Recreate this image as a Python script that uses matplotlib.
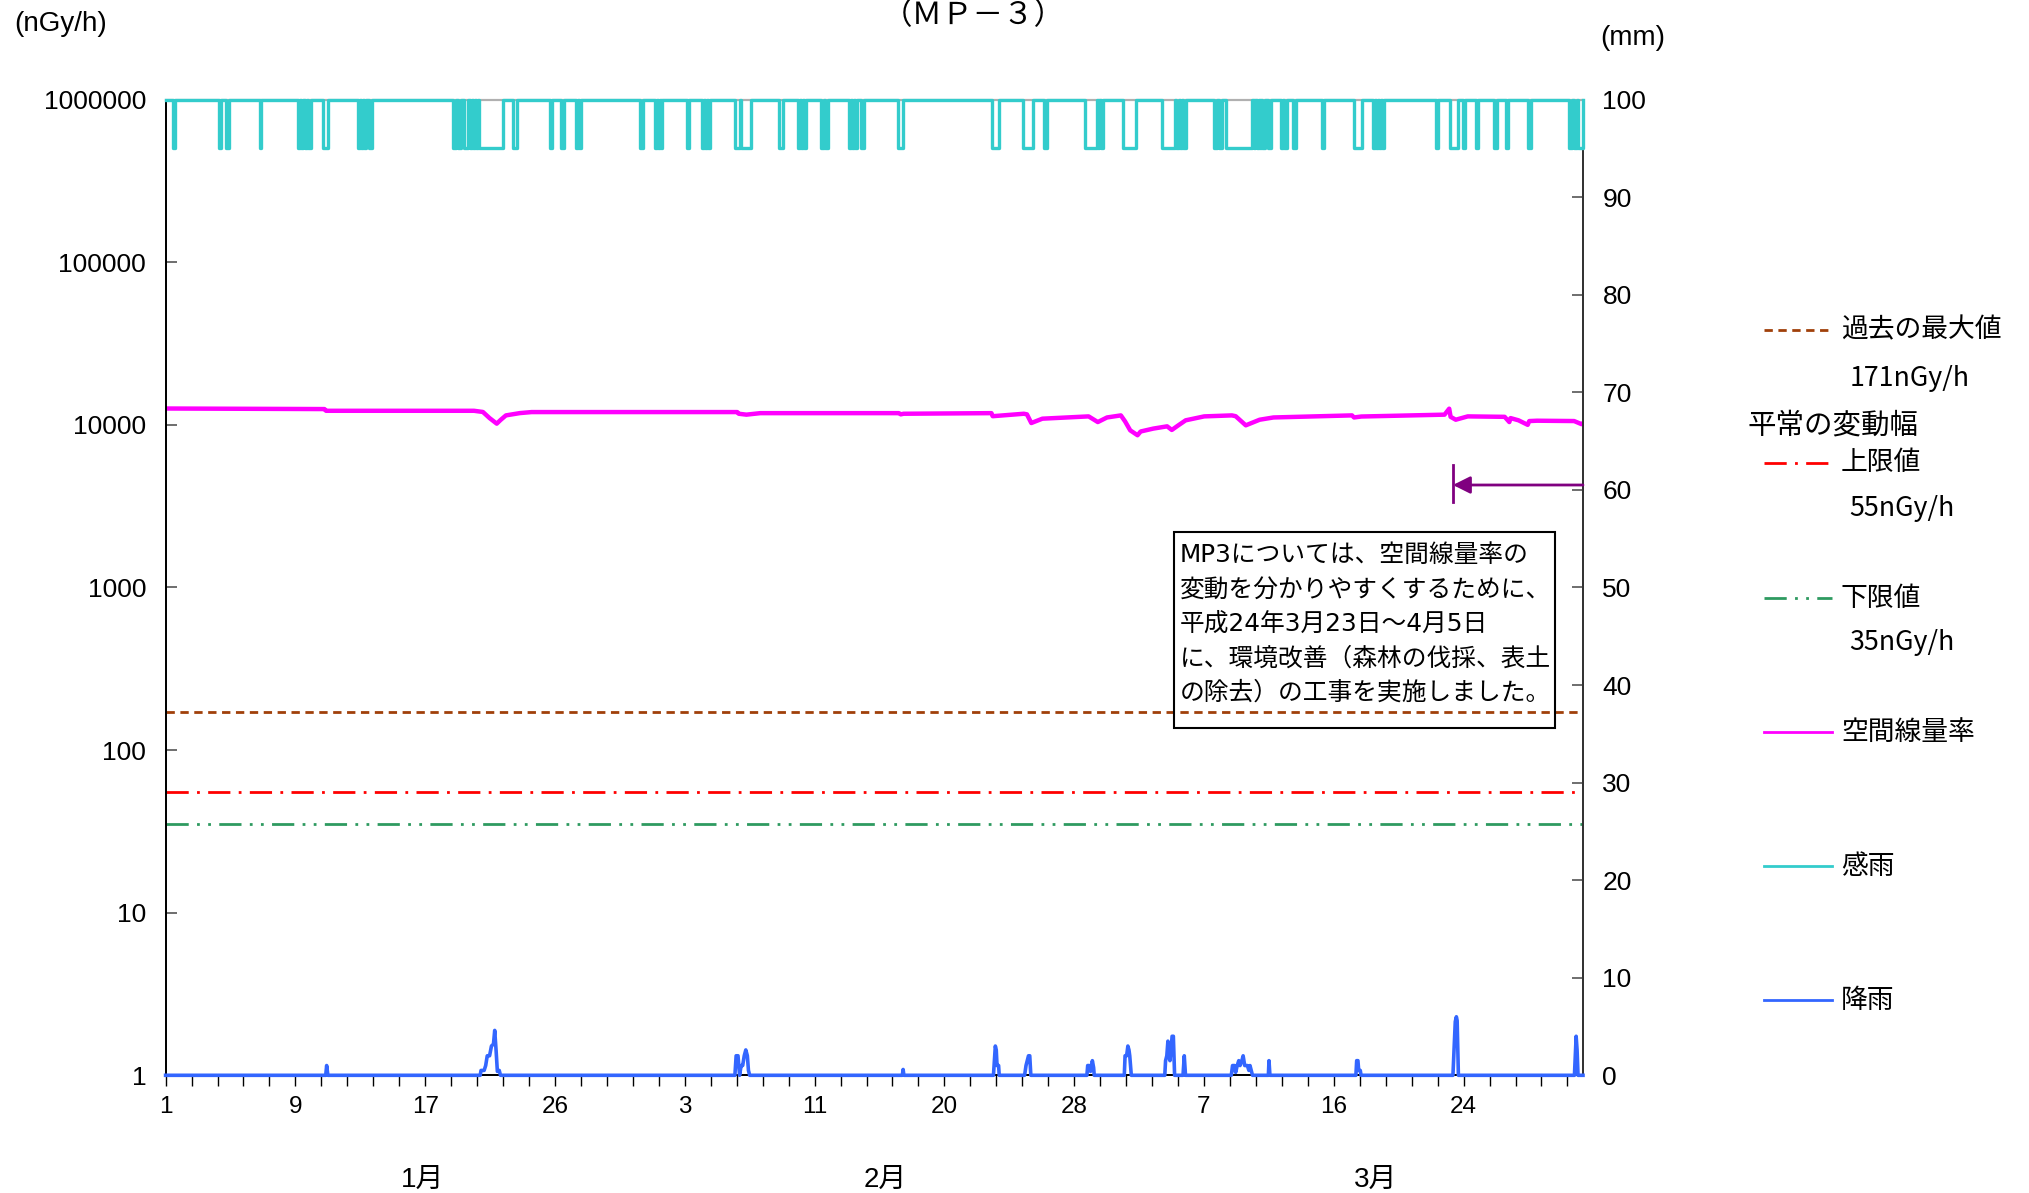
import numpy as np
import matplotlib
matplotlib.use("Agg")
import matplotlib.pyplot as plt
from matplotlib.lines import Line2D
from matplotlib.patches import Rectangle
from matplotlib.ticker import FixedLocator, NullLocator

plt.rcParams['font.family'] = ['Liberation Sans', 'Noto Sans CJK JP']

# ---------------- data (x in days elapsed since Jan 1, 2012) ----------------
dose_day = [0, 10.2, 10.3, 19.8, 20.37, 20.8, 21.26, 21.5, 21.85, 22.75, 23.5, 36.7, 36.8, 37.29,
            38.18, 47.08, 47.2, 47.38, 53.02, 53.1, 55.1, 55.3, 55.58, 56.29, 59.26, 59.85, 60.44,
            61.33, 61.6, 61.93, 62.4, 62.6, 63.41, 64.3, 64.6, 65.0, 65.49, 66.68, 68.46, 68.7,
            69.35, 70.24, 71.13, 76.17, 76.3, 76.77, 82.11, 82.41, 82.5, 82.83, 83.6, 85.97, 86.27,
            86.35, 86.86, 87.45, 87.55, 88.05, 90.43, 90.9, 91]
dose_val = [12600, 12500, 12200, 12200, 12000, 11000, 10170, 10700, 11430, 11810, 11980, 11980,
            11700, 11550, 11800, 11800, 11600, 11700, 11800, 11300, 11700, 11600, 10260, 10910,
            11270, 10400, 11100, 11430, 10500, 9250, 8630, 9100, 9480, 9790, 9300, 9900, 10660,
            11270, 11430, 11300, 9930, 10750, 11100, 11430, 11100, 11250, 11550, 12570, 11200,
            10750, 11270, 11200, 10400, 11000, 10660, 10000, 10550, 10600, 10550, 10100, 10200]

rain_day = [0, 10.28, 10.34, 10.42,
            20.2, 20.25, 20.45, 20.55, 20.65, 20.8, 20.92, 21.05, 21.13, 21.22, 21.3, 21.42, 21.5,
            36.55, 36.63, 36.75, 36.85, 36.95, 37.05, 37.15, 37.25, 37.35, 37.42, 37.5,
            47.3, 47.35, 47.4,
            53.15, 53.27, 53.33, 53.38, 53.48, 53.52,
            55.15, 55.24, 55.32, 55.4, 55.48, 55.55,
            59.15, 59.2, 59.3, 59.38, 59.5, 59.58, 59.62,
            61.55, 61.6, 61.7, 61.78, 61.85, 61.9, 62.0,
            64.15, 64.2, 64.28, 64.35, 64.42, 64.48, 64.55, 64.62, 64.7, 64.78,
            65.32, 65.4, 65.48,
            68.42, 68.5, 68.62, 68.7, 68.8, 68.9, 68.98, 69.1, 69.18, 69.28, 69.45, 69.55, 69.62, 69.7, 69.78,
            70.8, 70.84, 70.9,
            76.42, 76.47, 76.55, 76.6, 76.7, 76.75,
            82.65, 82.72, 82.8, 82.87, 82.92, 83.0,
            90.45, 90.56, 90.62, 90.68, 91]
rain_mm = [0, 0, 1.0, 0,
           0, 0.5, 0.5, 1.0, 2.0, 2.0, 3.0, 3.2, 4.6, 2.5, 0.4, 0.5, 0,
           0, 2.0, 2.0, 0, 1.0, 1.0, 2.0, 2.6, 2.0, 0.5, 0,
           0, 0.6, 0,
           0, 3.0, 2.6, 1.0, 1.0, 0,
           0, 1.0, 1.5, 2.0, 2.0, 0,
           0, 1.0, 1.0, 0.4, 1.5, 0.8, 0,
           0, 2.0, 2.0, 3.0, 2.6, 2.0, 0,
           0, 1.5, 2.0, 3.5, 2.0, 1.5, 2.6, 4.0, 4.0, 0,
           0, 2.0, 0,
           0, 1.0, 1.0, 0.3, 1.0, 1.5, 1.0, 1.5, 2.0, 1.0, 1.0, 0.5, 1.0, 0.5, 0,
           0, 1.5, 0,
           0, 1.5, 1.5, 0.5, 0.5, 0,
           0, 2.6, 5.5, 6.0, 5.6, 0,
           0, 4.0, 2.6, 0, 0]

sense_start = [0.45, 3.43, 3.88, 6.03, 8.52, 8.72, 8.92, 9.12, 10.1, 12.37, 12.56, 12.74, 13.08,
               18.47, 18.8, 19.16, 19.54, 19.74, 19.94, 20.12, 22.3, 24.68, 25.39, 26.35, 26.55,
               30.46, 31.42, 31.62, 31.78, 33.45, 34.42, 34.62, 34.82, 36.56, 36.95, 39.4, 40.62,
               40.82, 41.0, 42.08, 42.33, 43.88, 44.08, 44.27, 44.63, 47.0, 53.03, 55.03, 56.4,
               59.03, 59.85, 60.05, 61.45, 63.99, 64.9, 65.12, 65.32, 67.33, 67.6, 68.1, 69.85,
               70.05, 70.24, 70.4, 70.76, 71.6, 71.82, 72.4, 74.27, 76.3, 77.5, 77.7, 77.9, 78.1,
               81.55, 82.47, 83.3, 84.1, 85.3, 86.05, 87.45, 90.12, 90.44, 90.7]
sense_end = [0.62, 3.58, 4.05, 6.1, 8.65, 8.85, 9.05, 9.32, 10.45, 12.5, 12.68, 12.87, 13.23,
             18.62, 18.98, 19.43, 19.67, 19.87, 20.05, 21.68, 22.58, 24.83, 25.56, 26.45, 26.67,
             30.65, 31.55, 31.72, 31.85, 33.6, 34.55, 34.75, 34.95, 36.88, 37.6, 39.62, 40.75,
             40.95, 41.1, 42.25, 42.5, 44.0, 44.2, 44.37, 44.84, 47.36, 53.52, 55.7, 56.6,
             59.78, 59.95, 60.2, 62.3, 64.8, 65.05, 65.25, 65.5, 67.48, 67.8, 69.78, 69.97,
             70.17, 70.34, 70.6, 70.95, 71.72, 71.97, 72.6, 74.38, 76.8, 77.62, 77.82, 78.02, 78.24,
             81.7, 83.0, 83.45, 84.27, 85.5, 86.2, 87.65, 90.32, 90.6, 91.0]
sense_dry = 100
sense_wet = 95

past_max = 171
upper_limit = 55
lower_limit = 35

xtick_labels = ['1', '9', '17', '26', '3', '11', '20', '28', '7', '16', '24']
month_labels = ['1月', '2月', '3月']
month_centers = [16.5, 46.2, 77.7]
ylabels_left = ['1', '10', '100', '1000', '10000', '100000', '1000000']

note_lines = ['MP3については、空間線量率の',
              '変動を分かりやすくするために、',
              '平成24年3月23日～4月5日',
              'に、環境改善（森林の伐採、表土',
              'の除去）の工事を実施しました。']
work_start_day = 82.65
arrow_level = 60.5

# ---------------- figure ----------------
W, H = 2029, 1193
fig = plt.figure(figsize=(W / 100, H / 100), dpi=100)
ax = fig.add_axes([165.6 / W, 1 - 1075.3 / H, (1583 - 165.6) / W, (1075.3 - 99.6) / H])
ax.set_yscale('log')
ax.set_ylim(1, 1e6)
ax.set_xlim(0, 91)
ax2 = ax.twinx()
ax2.set_ylim(0, 100)
ax2.set_xlim(0, 91)

c_past = '#a0400a'
c_up = '#ff0000'
c_low = '#2e9a60'
c_dose = '#ff00ff'
c_sense = '#33cccc'
c_rain = '#3366ff'
c_arrow = '#800080'

ls_past = (0, (3, 2))
ls_up = (0, (8, 3, 1, 3))
ls_low = (0, (8, 3, 1, 3, 1, 3))

ax.axhline(past_max, color=c_past, ls=ls_past, lw=2)
ax.axhline(upper_limit, color=c_up, ls=ls_up, lw=2)
ax.axhline(lower_limit, color=c_low, ls=ls_low, lw=2)
ax.plot(dose_day, dose_val, color=c_dose, lw=3.2)

# sensing rain step series
sx, sy = [0], [sense_dry]
for s, e in zip(sense_start, sense_end):
    sx += [s, s, e, e]
    sy += [sense_dry, sense_wet, sense_wet, sense_dry]
sx.append(91)
sy.append(sense_dry)
ax2.plot(sx, sy, color=c_sense, lw=2.4, clip_on=False, zorder=3)
ax2.plot(rain_day, rain_mm, color=c_rain, lw=2.6, clip_on=False, zorder=3)

# spines
for a in (ax, ax2):
    a.spines['top'].set_color('#b0b0b0')
    a.spines['top'].set_linewidth(1.5)
    a.spines['left'].set_color('black')
    a.spines['bottom'].set_color('black')
    a.spines['right'].set_color('#333333')
    for s in ('left', 'bottom', 'right'):
        a.spines[s].set_linewidth(1.3)

# ticks
ax.yaxis.set_major_locator(FixedLocator([10 ** i for i in range(7)]))
ax.yaxis.set_minor_locator(NullLocator())
ax.set_yticklabels(ylabels_left)
ax.tick_params(axis='y', which='both', direction='in', length=8, width=1.2,
               labelsize=19, pad=14, colors='#555555', labelcolor='black')
ax2.set_yticks(np.arange(0, 101, 10))
ax2.tick_params(axis='y', direction='in', length=8, width=1.2, labelsize=19, pad=14,
                colors='#555555', labelcolor='black')

label_step = 25 / 3
ax.set_xticks([k * label_step for k in range(len(xtick_labels))])
ax.set_xticklabels(xtick_labels)
ax.set_xticks(np.arange(0, 91, label_step / 5), minor=True)
ax.tick_params(axis='x', which='both', direction='out', length=8, width=1.0, labelsize=17.5, pad=7)

# month labels
for lab, cx in zip(month_labels, month_centers):
    ax.text(cx, -0.107, lab, transform=ax.get_xaxis_transform(), ha='center', va='center',
            fontsize=20)

# annotation arrow
ax2.annotate('', xy=(work_start_day, arrow_level), xytext=(91, arrow_level),
             arrowprops=dict(arrowstyle='-|>', color=c_arrow, lw=2, mutation_scale=26,
                             shrinkA=0, shrinkB=0))
ax2.plot([work_start_day, work_start_day], [arrow_level - 1.7, arrow_level + 2.1],
         color=c_arrow, lw=2)

# note box
box_x0, box_x1 = 64.75, 89.2
box_y0, box_y1 = 35.6, 55.7
ax2.add_patch(Rectangle((box_x0, box_y0), box_x1 - box_x0, box_y1 - box_y0, fill=False,
                        edgecolor='black', lw=1.5, zorder=4))
for i, line in enumerate(note_lines):
    ax2.text(65.13, 53.3 - i * 3.52, line, ha='left', va='center', fontsize=17.8,
             family=['DejaVu Sans', 'Noto Sans CJK JP'], zorder=5)

# titles / units
fig.text(973 / W, 1 - 16 / H, '（ＭＰ－３）', ha='center', va='center', fontsize=22,
         family=['Noto Sans CJK JP'])
fig.text(61 / W, 1 - 24 / H, '(nGy/h)', ha='center', va='center', fontsize=20,
         family=['Liberation Sans Narrow', 'Liberation Sans'])
fig.text(1633 / W, 1 - 38 / H, '(mm)', ha='center', va='center', fontsize=20,
         family=['Liberation Sans Narrow', 'Liberation Sans'])

# legend (manual)
lx0, lx1 = 1764 / W, 1832 / W
tx = 1841 / W
leg_font = dict(fontsize=19.3, family=['Noto Sans CJK JP'], va='center')
legend_items = [
    (330, '過去の最大値', c_past, ls_past),
    (463, '上限値', c_up, ls_up),
    (598, '下限値', c_low, ls_low),
    (732, '空間線量率', c_dose, '-'),
    (866, '感雨', c_sense, '-'),
    (1000, '降雨', c_rain, '-'),
]
for yy, lab, col, ls in legend_items:
    fy = 1 - yy / H
    fig.add_artist(Line2D([lx0, lx1], [fy, fy], color=col, ls=ls, lw=2,
                          transform=fig.transFigure))
    fig.text(tx, fy, lab, ha='left', **leg_font)
fig.text(1850 / W, 1 - 378 / H, '171nGy/h', ha='left', **leg_font)
fig.text(1748 / W, 1 - 426 / H, '平常の変動幅', ha='left', fontsize=20.5,
         family=['Noto Sans CJK JP'], va='center')
fig.text(1849 / W, 1 - 509 / H, '55nGy/h', ha='left', **leg_font)
fig.text(1849 / W, 1 - 642 / H, '35nGy/h', ha='left', **leg_font)

fig.savefig('out.png', dpi=100)
